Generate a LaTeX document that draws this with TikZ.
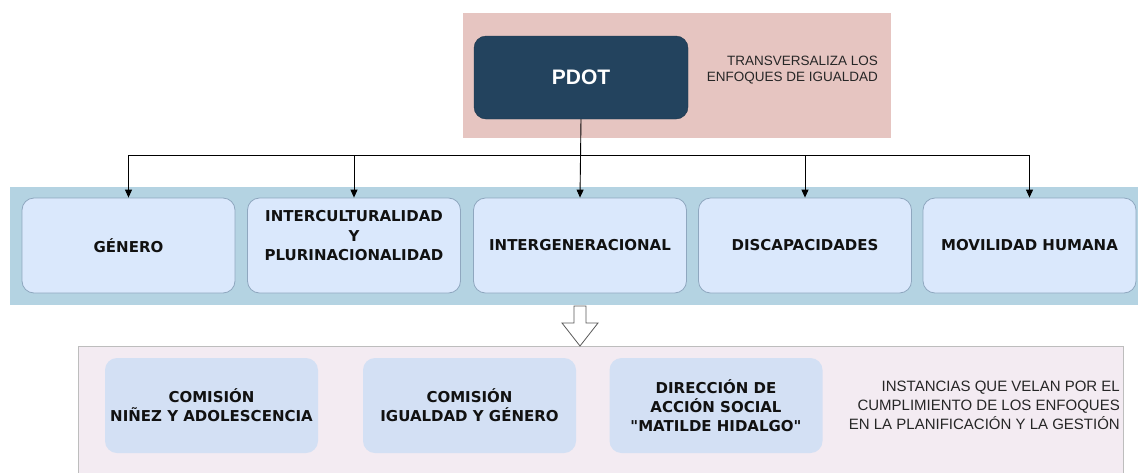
\documentclass[tikz,border=0pt]{standalone}
\usepackage{fontspec}
\setmainfont{Liberation Sans}
\newfontfamily\boxfont{DejaVu Sans}
\usetikzlibrary{arrows.meta}
\definecolor{pinkbg}{HTML}{E6C5C1}
\definecolor{navy}{HTML}{23435E}
\definecolor{bandblue}{HTML}{B4D3E2}
\definecolor{boxfill}{HTML}{DAE8FC}
\definecolor{boxline}{HTML}{8FA7BF}
\definecolor{panelbg}{HTML}{F3EBF2}
\definecolor{panelline}{HTML}{BDBDBD}
\definecolor{softbox}{HTML}{D3E0F4}
\definecolor{textdark}{HTML}{111111}
\begin{document}
\begin{tikzpicture}[x=1pt,y=-1pt,
  enfoque/.style={draw=boxline, fill=boxfill, rounded corners=12pt,
    minimum width=213pt, minimum height=95pt, line width=0.8pt,
    font=\boxfont\bfseries\fontsize{15}{19.5}\selectfont, align=center,
    text=textdark, inner sep=0pt},
  instancia/.style={fill=softbox, rounded corners=12pt,
    minimum width=213pt, minimum height=95pt,
    font=\boxfont\bfseries\fontsize{15}{19}\selectfont, align=center,
    text=textdark, inner sep=0pt},
  note/.style={font=\fontsize{13.5}{16}\selectfont, align=right, text=black!85, inner sep=0pt},
  arr/.style={-{Triangle[length=8pt,width=7pt]}, line width=0.9pt, draw=black}
]
\useasboundingbox (0,0) rectangle (1138,472);
% backgrounds
\fill[pinkbg] (463,13) rectangle (891,138);
\fill[bandblue] (10,187) rectangle (1140,305);
\filldraw[fill=panelbg, draw=panelline, line width=0.8pt] (78,346) rectangle (1123,476);

% top
\node[fill=navy, draw=navy!80!black, rounded corners=12pt, minimum width=214pt,
  minimum height=83pt, text=white, font=\bfseries\fontsize{21}{24}\selectfont,
  inner sep=0pt] (pdot) at (581,77.5) {PDOT};
\node[note, anchor=east] (trans) at (878,70) {TRANSVERSALIZA LOS\\ENFOQUES DE IGUALDAD};

% enfoques
\node[enfoque] (b1) at (128.5,245.5) {GÉNERO};
\node[enfoque] (b2) at (354,245.5) {};
\node[font=\boxfont\bfseries\fontsize{15}{19.5}\selectfont, align=center, text=textdark, inner sep=0pt] (b2t) at (354,236) {INTERCULTURALIDAD\\Y\\PLURINACIONALIDAD};
\node[enfoque] (b3) at (580,245.5) {INTERGENERACIONAL};
\node[enfoque] (b4) at (805,245.5) {DISCAPACIDADES};
\node[enfoque] (b5) at (1029.5,245.5) {MOVILIDAD HUMANA};

% connectors
\coordinate (j) at (580,155);
\draw[arr] (pdot.south) -- (b3.north);
\draw[arr] (j) -| (b1.north);
\draw[arr] (j) -| (b2.north);
\draw[arr] (j) -| (b4.north);
\draw[arr] (j) -| (b5.north);

% hollow arrow
\filldraw[fill=white, draw=black!65, line width=0.8pt, line join=miter]
  (574,306) -- (586,306) -- (586,323) -- (598,323) -- (580,346) -- (562,323) -- (574,323) -- cycle;

% instancias
\node[instancia] (c1) at (211.5,405.5) {COMISIÓN\\NIÑEZ Y ADOLESCENCIA};
\node[instancia] (c2) at (469.5,405.5) {COMISIÓN\\IGUALDAD Y GÉNERO};
\node[instancia] (c3) at (716,405.5) {DIRECCIÓN DE\\ACCIÓN SOCIAL\\"MATILDE HIDALGO"};
\node[note, anchor=east, font=\fontsize{15}{19}\selectfont] (inst) at (1120,405)
  {INSTANCIAS QUE VELAN POR EL\\CUMPLIMIENTO DE LOS ENFOQUES\\EN LA PLANIFICACIÓN Y LA GESTIÓN};
\end{tikzpicture}
\end{document}
